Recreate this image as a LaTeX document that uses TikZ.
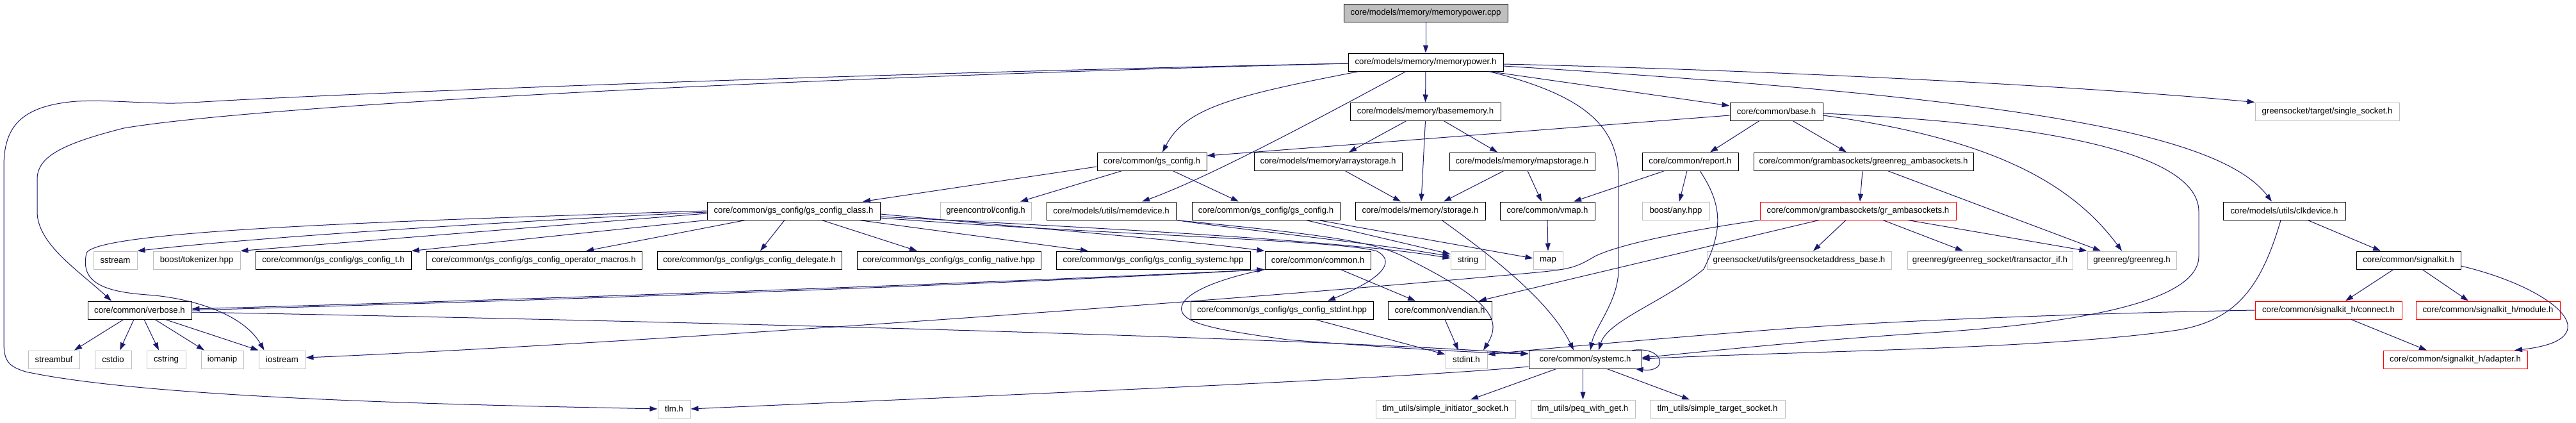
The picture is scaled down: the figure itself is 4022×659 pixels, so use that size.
\documentclass[tikz,border=0pt]{standalone}
\usepackage{fontspec}
\setmainfont{Liberation Sans}
\usetikzlibrary{arrows.meta,calc}
\definecolor{edgec}{HTML}{191970}
\definecolor{gbord}{HTML}{BFBFBF}
\definecolor{rbord}{HTML}{FF0000}
\definecolor{topfill}{HTML}{BFBFBF}
\newcommand\mkbox[6]{%
  \pgfmathsetmacro\bxcx{(#3+#4)/2}%
  \pgfmathsetmacro\bxw{(#4-#3)*0.5}%
  \node[#1, minimum width=\bxw pt] (#2) at (\bxcx,#5+14) {#6};}
\tikzset{
  nb/.style={draw=black, fill=white, line width=0.5pt, minimum height=14pt, inner sep=0pt,
    font=\fontsize{6.6}{7.9}\selectfont},
  ng/.style={nb, draw=gbord},
  nr/.style={nb, draw=rbord},
  ntop/.style={nb, fill=topfill},
  e/.style={draw=edgec, line width=0.5pt, -{Triangle[length=6pt,width=4pt]}},
}
\begin{document}
\begin{tikzpicture}[x=0.5pt,y=-0.5pt]
\useasboundingbox (0,0) rectangle (4022,659);
% row 0,1
\mkbox{ntop}{cpp}{2098}{2354}{6}{core/models/memory/memorypower.cpp}
\mkbox{nb}{mph}{2105}{2347}{83}{core/models/memory/memorypower.h}
% row 2
\mkbox{nb}{bmem}{2108}{2343}{160}{core/models/memory/basememory.h}
\mkbox{nb}{base}{2701}{2846}{160}{core/common/base.h}
\mkbox{ng}{single}{3521}{3746}{160}{greensocket/target/single\_socket.h}
% row 3
\mkbox{nb}{gscfg}{1713}{1884}{238}{core/common/gs\_config.h}
\mkbox{nb}{arrst}{1958}{2189}{238}{core/models/memory/arraystorage.h}
\mkbox{nb}{mapst}{2263}{2490}{238}{core/models/memory/mapstorage.h}
\mkbox{nb}{report}{2564}{2714}{238}{core/common/report.h}
\mkbox{nb}{grnamba}{2738}{3081}{238}{core/common/grambasockets/greenreg\_ambasockets.h}
% row 4
\mkbox{nb}{gsclass}{1104}{1374}{315}{core/common/gs\_config/gs\_config\_class.h}
\mkbox{ng}{gcconf}{1468}{1610}{315}{greencontrol/config.h}
\mkbox{nb}{memdev}{1634}{1836}{315}{core/models/utils/memdevice.h}
\mkbox{nb}{gscfg2}{1861}{2092}{315}{core/common/gs\_config/gs\_config.h}
\mkbox{nb}{storage}{2116}{2319}{315}{core/models/memory/storage.h}
\mkbox{nb}{vmap}{2342}{2490}{315}{core/common/vmap.h}
\mkbox{ng}{any}{2564}{2669}{315}{boost/any.hpp}
\mkbox{nr}{gramba}{2748}{3054}{315}{core/common/grambasockets/gr\_ambasockets.h}
\mkbox{nb}{clk}{3471}{3662}{315}{core/models/utils/clkdevice.h}
% row 5
\mkbox{ng}{sstream}{146}{214}{392}{sstream}
\mkbox{ng}{tok}{239}{375}{392}{boost/tokenizer.hpp}
\mkbox{nb}{cfgt}{399}{642}{392}{core/common/gs\_config/gs\_config\_t.h}
\mkbox{nb}{opmac}{665}{1002}{392}{core/common/gs\_config/gs\_config\_operator\_macros.h}
\mkbox{nb}{deleg}{1026}{1314}{392}{core/common/gs\_config/gs\_config\_delegate.h}
\mkbox{nb}{native}{1338}{1625}{392}{core/common/gs\_config/gs\_config\_native.hpp}
\mkbox{nb}{cfgsysc}{1649}{1952}{392}{core/common/gs\_config/gs\_config\_systemc.hpp}
\mkbox{nb}{common}{1975}{2140}{392}{core/common/common.h}
\mkbox{ng}{string}{2265}{2319}{392}{string}
\mkbox{ng}{map}{2394}{2440}{392}{map}
\mkbox{ng}{gsaddr}{2665}{2953}{392}{greensocket/utils/greensocketaddress\_base.h}
\mkbox{ng}{transif}{2978}{3236}{392}{greenreg/greenreg\_socket/transactor\_if.h}
\mkbox{ng}{greenreg}{3259}{3398}{392}{greenreg/greenreg.h}
\mkbox{nb}{signalkit}{3679}{3842}{392}{core/common/signalkit.h}
% row 6
\mkbox{nb}{verbose}{137}{299}{470}{core/common/verbose.h}
\mkbox{nb}{stdinthpp}{1859}{2144}{470}{core/common/gs\_config/gs\_config\_stdint.hpp}
\mkbox{nb}{vendian}{2167}{2329}{470}{core/common/vendian.h}
\mkbox{nr}{connect}{3521}{3750}{470}{core/common/signalkit\_h/connect.h}
\mkbox{nr}{module}{3772}{3997}{470}{core/common/signalkit\_h/module.h}
% row 7
\mkbox{ng}{streambuf}{44}{124}{547}{streambuf}
\mkbox{ng}{cstdio}{148}{205}{547}{cstdio}
\mkbox{ng}{cstring}{229}{290}{547}{cstring}
\mkbox{ng}{iomanip}{314}{380}{547}{iomanip}
\mkbox{ng}{iostream}{404}{477}{547}{iostream}
\mkbox{ng}{stdint}{2257}{2322}{547}{stdint.h}
\mkbox{nb}{systemc}{2387}{2563}{547}{core/common/systemc.h}
\mkbox{nr}{adapter}{3721}{3946}{547}{core/common/signalkit\_h/adapter.h}
% row 8
\mkbox{ng}{tlm}{1027}{1078}{624}{tlm.h}
\mkbox{ng}{init}{2148}{2366}{624}{tlm\_utils/simple\_initiator\_socket.h}
\mkbox{ng}{peq}{2390}{2553}{624}{tlm\_utils/peq\_with\_get.h}
\mkbox{ng}{target}{2576}{2787}{624}{tlm\_utils/simple\_target\_socket.h}

% ---------- edges ----------
\draw[e] (cpp) -- (mph);
\draw[e] (mph) -- (bmem);
\draw[e] ($(mph.south)+(99,0)$) -- ($(base.west)+(0,-9)$);
\draw[e] ($(mph.south)+(-104,0)$) .. controls (1920,150) and (1850,170) .. ($(gscfg.north)+(16.5,0)$);
\draw[e] ($(mph.south)+(-31,0)$) .. controls (2050,190) and (1880,280) .. ($(memdev.north)+(48,0)$);
\draw[e] ($(mph.south)+(99,0)$) .. controls (2480,150) and (2527,200) .. (2527,280) -- (2527,420) .. controls (2527,470) and (2490,510) .. ($(systemc.north)+(8,0)$);
\draw[e] ($(mph.east)+(0,3)$) .. controls (2700,108) and (3200,130) .. (single.north west);
\draw[e] ($(mph.east)+(0,6)$) .. controls (3100,150) and (3460,200) .. ($(clk.north)+(-19.5,0)$);
\draw[e] ($(mph.west)+(0,2)$) .. controls (1200,118) and (450,150) .. (300,160) .. controls (240,164) and (180,155) .. (120,158) .. controls (30,165) and (6,200) .. (6,260) -- (6,535) .. controls (6,565) and (15,572) .. (40,580) .. controls (250,625) and (800,633) .. (tlm.west);
\draw[e] ($(mph.west)+(0,2)$) .. controls (1200,122) and (400,165) .. (193,200) .. controls (95,225) and (58,245) .. (58,280) -- (58,330) .. controls (58,380) and (120,420) .. ($(verbose.north)+(-44,0)$);

\draw[e] ($(bmem.south)+(-29.5,0)$) -- ($(arrst.north)+(32.5,0)$);
\draw[e] (bmem.south) -- ($(storage.north)+(1.5,0)$);
\draw[e] ($(bmem.south)+(28.5,0)$) -- ($(mapst.north)+(-38.5,0)$);

\draw[e] ($(base.west)+(0,6)$) -- ($(gscfg.east)+(0,-9)$);
\draw[e] ($(base.south)+(-26.5,0)$) -- ($(report.north)+(31,0)$);
\draw[e] ($(base.south)+(25.5,0)$) -- ($(grnamba.north)+(-26.5,0)$);
\draw[e] ($(base.east)+(0,3)$) .. controls (3250,195) and (3433,250) .. (3433,330) -- (3433,400) .. controls (3433,470) and (3250,505) .. (3000,520) .. controls (2800,533) and (2650,550) .. ($(systemc.east)+(0,-3)$);
\draw[e] ($(base.east)+(0,6)$) .. controls (3100,215) and (3230,280) .. ($(greenreg.north)+(-15.5,0)$);

\draw[e] ($(report.south)+(-40,0)$) -- ($(vmap.north)+(41,0)$);
\draw[e] ($(report.south)+(-5,0)$) -- ($(any.north)+(5.5,0)$);
\draw[e] ($(report.south)+(15,0)$) .. controls (2690,320) and (2690,360) .. (2660,420) .. controls (2600,470) and (2510,500) .. ($(systemc.north)+(21,0)$);

\draw[e] ($(grnamba.south)+(-1.5,0)$) -- ($(gramba.north)+(3,0)$);
\draw[e] ($(grnamba.south)+(37.5,0)$) -- ($(greenreg.north)+(-48.5,0)$);

\draw[e] ($(arrst.south)+(26.5,0)$) -- ($(storage.north)+(-30.5,0)$);
\draw[e] ($(mapst.south)+(-28.5,0)$) -- ($(storage.north)+(36.5,0)$);
\draw[e] ($(mapst.south)+(8.5,0)$) -- ($(vmap.north)+(-9,0)$);

\draw[e] ($(gscfg.west)+(0,8)$) -- ($(gsclass.north)+(108,0)$);
\draw[e] ($(gscfg.south)+(-46.5,0)$) -- ($(gcconf.north)+(54,0)$);
\draw[e] ($(gscfg.south)+(32.5,0)$) -- ($(gscfg2.north)+(-42.5,0)$);

\draw[e] ($(gramba.south)+(-19,0)$) -- ($(gsaddr.north)+(22,0)$);
\draw[e] ($(gramba.south)+(39,0)$) -- ($(transif.north)+(-42,0)$);
\draw[e] ($(gramba.south)+(78,0)$) -- (greenreg.north west);
\draw[e] ($(gramba.south)+(-61,0)$) -- ($(vendian.north)+(61,0)$);
\draw[e] (gramba.south west) .. controls (2600,365) and (2520,385) .. (2490,400) .. controls (2460,418) and (2450,420) .. (2400,425) .. controls (1800,480) and (900,540) .. ($(iostream.east)+(0,-3)$);

\draw[e] ($(clk.south)+(-5.5,0)$) .. controls (3530,450) and (3490,500) .. (3400,515) .. controls (3200,545) and (2800,548) .. ($(systemc.east)+(0,-1)$);
\draw[e] ($(clk.south)+(36.5,0)$) -- ($(signalkit.north)+(-43.5,0)$);
\draw[e] ($(signalkit.south)+(-23.5,0)$) -- ($(connect.north)+(26.5,0)$);
\draw[e] ($(signalkit.south)+(21.5,0)$) -- ($(module.north)+(-30.5,0)$);
\draw[e] ($(signalkit.east)+(0,9)$) .. controls (3990,450) and (4080,530) .. ($(adapter.north)+(92.5,0)$);
\draw[e] ($(connect.south)+(35.5,0)$) -- ($(adapter.north)+(-44.5,0)$);
\draw[e] (connect.west) .. controls (3300,488) and (3000,498) .. (2800,512) .. controls (2600,527) and (2400,545) .. ($(stdint.east)+(0,-8)$);

\draw[e] ($(systemc.south)+(-45,0)$) -- ($(init.north)+(39,0)$);
\draw[e] ($(systemc.south)+(-3.5,0)$) -- (peq.north);
\draw[e] ($(systemc.south)+(34,0)$) -- ($(target.north)+(-43.5,0)$);
\draw[e] ($(systemc.west)+(0,11)$) .. controls (2200,590) and (1600,615) .. (tlm.east);
\draw[e] ($(systemc.north east)+(-15,0)$) .. controls (2600,540) and (2605,582) .. ($(systemc.south east)+(-10,0)$);

\draw[e] ($(storage.south)+(33.5,0)$) .. controls (2330,400) and (2420,470) .. ($(systemc.north)+(-18,0)$);
\draw[e] (vmap.south) -- (map.north);
\draw[e] ($(gscfg2.south)+(62.5,0)$) -- ($(string.north west)+(0,5)$);
\draw[e] ($(gscfg2.south)+(81.5,0)$) -- ($(map.west)+(0,-3)$);

\draw[e] ($(gsclass.east)+(0,9)$) .. controls (1700,355) and (2100,375) .. ($(string.west)+(0,-3)$);
\draw[e] (memdev.south east) .. controls (1950,360) and (2150,380) .. ($(string.west)+(0,-6)$);
\draw[e] (memdev.south east) .. controls (2050,365) and (2150,375) .. (2200,405) .. controls (2330,470) and (2345,500) .. ($(stdint.north)+(26.5,0)$);
\draw[e] ($(gsclass.east)+(0,11)$) .. controls (1700,365) and (2100,375) .. (2150,392) .. controls (2175,405) and (2170,430) .. ($(stdinthpp.north)+(71.5,0)$);
\draw[e] ($(gsclass.east)+(0,5)$) .. controls (1600,355) and (1850,375) .. (common.north west);
\draw[e] ($(gsclass.south)+(102,0)$) -- ($(cfgsysc.north)+(-101.5,0)$);
\draw[e] ($(gsclass.south)+(44,0)$) -- ($(native.north)+(-49.5,0)$);
\draw[e] ($(gsclass.south)+(-14,0)$) -- ($(deleg.north)+(17,0)$);
\draw[e] ($(gsclass.south)+(-75,0)$) -- ($(opmac.north)+(81.5,0)$);
\draw[e] (gsclass.south west) -- (cfgt.north east);
\draw[e] ($(gsclass.west)+(0,4)$) -- (tok.north east);
\draw[e] ($(gsclass.west)+(0,2)$) .. controls (800,345) and (400,370) .. (sstream.north east);
\draw[e] (gsclass.west) .. controls (600,345) and (150,360) .. (135,395) .. controls (125,440) and (160,455) .. (230,460) .. controls (300,465) and (380,490) .. ($(iostream.north)+(-28,0)$);

\draw[e] ($(verbose.south)+(-25,0)$) -- ($(streambuf.north)+(32,0)$);
\draw[e] ($(verbose.south)+(-9,0)$) -- ($(cstdio.north)+(10.5,0)$);
\draw[e] ($(verbose.south)+(7,0)$) -- ($(cstring.north)+(-11.5,0)$);
\draw[e] ($(verbose.south)+(24,0)$) -- ($(iomanip.north)+(-28,0)$);
\draw[e] ($(verbose.south)+(40,0)$) -- (iostream.north west);
\draw[e] ($(verbose.east)+(0,3)$) .. controls (1000,500) and (2000,525) .. ($(systemc.west)+(0,-9)$);
\draw[e] (common.south west) .. controls (1500,444) and (800,468) .. ($(verbose.east)+(0,-2)$);
\draw[e] (verbose.east) .. controls (800,470) and (1500,447) .. (common.south west);
\draw[e] (common.south west) .. controls (1880,440) and (1840,465) .. (1845,485) .. controls (1850,505) and (1900,515) .. (2010,530) .. controls (2200,545) and (2300,550) .. ($(systemc.west)+(0,-9)$);
\draw[e] ($(common.south)+(35.5,0)$) -- ($(vendian.north)+(-38,0)$);
\draw[e] ($(vendian.south)+(8,0)$) -- ($(stdint.north)+(-12.5,0)$);
\draw[e] ($(stdinthpp.south)+(51.5,0)$) -- ($(stdint.west)+(0,-8)$);
\end{tikzpicture}
\end{document}
